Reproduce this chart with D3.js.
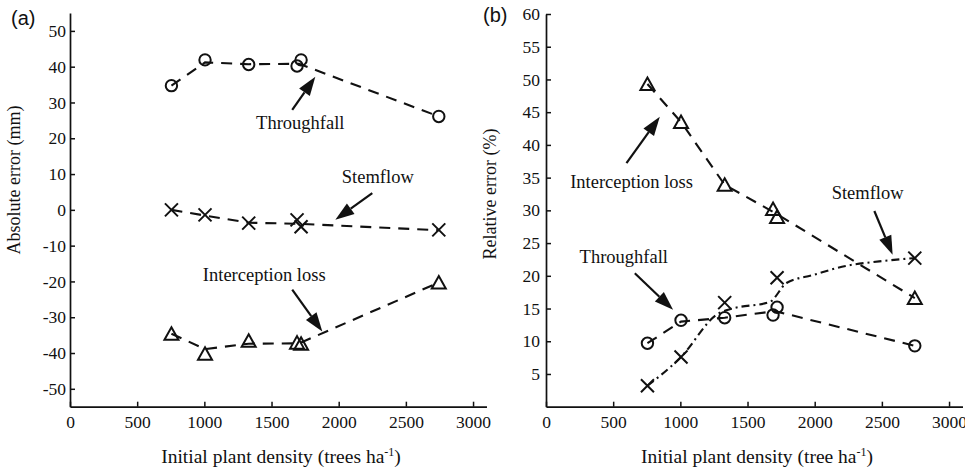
<!DOCTYPE html>
<html>
<head>
<meta charset="utf-8">
<script src="https://cdn.jsdelivr.net/npm/d3@7"></script>
<style>
  body { margin: 0; background: #fff; }
  text { font-family: "Liberation Serif", "Times New Roman", serif; fill: #111; }
  text.tag { font-family: "Liberation Sans", Arial, sans-serif; }
</style>
</head>
<body>
<svg width="965" height="472"></svg>
<script>
// plant densities (trees/ha)
var density = [755, 1005, 1330, 1690, 1720, 2745];

// (a) absolute error, mm
var throughAbs = [34.7, 41.9, 40.6, 40.2, 41.9, 26.1];
var stemAbs = [0, -1.4, -3.7, -2.8, -4.7, -5.6];
var interAbs = [-34.6, -40.2, -36.6, -37.1, -37.4, -20.3];

// (b) relative error, %
var throughRel = [9.7, 13.2, 13.6, 14.0, 15.2, 9.3];
var stemRel = [3.2, 7.6, 15.9, null, 19.7, 22.7];
var interRel = [49.3, 43.5, 33.9, 30.2, 29.0, 16.6];

// trend lines as drawn
var throughAbsLine = [[755, 34.7], [1005, 41.2], [1330, 40.7], [1705, 40.8], [2745, 26.1]];
var stemAbsLine = [[755, 0], [1005, -1.6], [1330, -3.6], [1705, -3.9], [2745, -5.7]];
var interAbsLine = [[755, -34.6], [1005, -38.9], [1330, -37.4], [1705, -37.3], [2745, -20.3]];
var throughRelLine = [[755, 9.7], [1005, 13.0], [1330, 13.6], [1705, 14.6], [2745, 9.3]];
var interRelLine = [[755, 49.3], [1005, 43.5], [1330, 33.9], [1705, 29.6], [2745, 16.6]];
var stemRelLine = [[755, 3.2], [1005, 7.6], [1280, 14.2], [1390, 15.0], [1665, 16.0], [1790, 18.9],
                   [1985, 20.1], [2230, 21.5], [2480, 22.2], [2745, 22.7]];

var xTicks = [0, 500, 1000, 1500, 2000, 2500, 3000];
var yTicksA = [-50, -40, -30, -20, -10, 0, 10, 20, 30, 40, 50];
var yTicksB = [5, 10, 15, 20, 25, 30, 35, 40, 45, 50, 55, 60];

// annotations: text spot and arrow, in data units
var notesA = [
  {label: "Throughfall", tx: 1714, ty: 22.5, from: [1654, 27.9], to: [1826, 37.2]},
  {label: "Stemflow", tx: 2291, ty: 7.6, from: [2250, 4.7], to: [1975, -2.8]},
  {label: "Interception loss", tx: 1446, ty: -20.0, from: [1654, -22.3], to: [1878, -34.0]}
];
var notesB = [
  {label: "Interception loss", tx: 637, ty: 33.4, from: [599, 37.2], to: [847, 44.3]},
  {label: "Stemflow", tx: 2394, ty: 31.8, from: [2444, 29.9], to: [2580, 23.2]},
  {label: "Throughfall", tx: 579, ty: 21.9, from: [661, 20.4], to: [946, 14.8]}
];

var svg = d3.select("svg");

function panel(opt) {
  var g = svg.append("g");
  var x = d3.scaleLinear().domain([0, 3100]).range([opt.left, opt.left + 3100 * 0.13435]);
  var y = d3.scaleLinear().domain(opt.ydom).range([406.7, opt.top]);

  g.append("g")
    .attr("transform", "translate(0,406.7)")
    .call(d3.axisBottom(x).tickValues(xTicks).tickSizeInner(-5).tickSizeOuter(0)
      .tickPadding(9).tickFormat(d => String(d)))
    .call(a => a.selectAll("text").attr("font-size", 17.5));

  g.append("g")
    .attr("transform", "translate(" + opt.left + ",0)")
    .call(d3.axisLeft(y).tickValues(opt.yticks).tickSizeInner(-5).tickSizeOuter(0)
      .tickPadding(opt.ypad).tickFormat(d => String(d)))
    .call(a => a.selectAll("text").attr("font-size", 17.5));

  g.selectAll(".domain").attr("stroke", "#111").attr("stroke-width", 1.7);
  g.selectAll(".tick line").attr("stroke", "#111").attr("stroke-width", 1.5);

  var line = d3.line().x(d => x(d[0])).y(d => y(d[1]));

  opt.lines.forEach(function(l) {
    g.append("path")
      .attr("d", line.curve(l.curve || d3.curveLinear)(l.pts))
      .attr("fill", "none")
      .attr("stroke", "#111")
      .attr("stroke-width", 2.1)
      .attr("stroke-dasharray", l.dash);
  });

  opt.series.forEach(function(s) {
    var pts = density.map((d, i) => [d, s.vals[i]]).filter(p => p[1] != null);
    var m = g.append("g").selectAll("path")
      .data(pts).enter().append("path")
      .attr("transform", p => "translate(" + x(p[0]) + "," + y(p[1]) + ")")
      .attr("fill", "none")
      .attr("stroke", "#111")
      .attr("stroke-width", 2);
    if (s.mark == "circle") m.attr("d", "M5.7,0A5.7,5.7 0 1,1 -5.7,0A5.7,5.7 0 1,1 5.7,0Z");
    if (s.mark == "tri") m.attr("d", "M0,-6.5L7,6L-7,6Z");
    if (s.mark == "cross") m.attr("d", "M-6.5,-6.5L6.5,6.5M-6.5,6.5L6.5,-6.5");
  });

  opt.notes.forEach(function(n) {
    g.append("text")
      .attr("x", x(n.tx)).attr("y", y(n.ty))
      .attr("text-anchor", "middle")
      .attr("font-size", 18.5)
      .text(n.label);
    var x1 = x(n.from[0]), y1 = y(n.from[1]), x2 = x(n.to[0]), y2 = y(n.to[1]);
    var ang = Math.atan2(y2 - y1, x2 - x1);
    var hl = 19, hw = 6.5;
    var bx = x2 - hl * Math.cos(ang), by = y2 - hl * Math.sin(ang);
    g.append("line")
      .attr("x1", x1).attr("y1", y1).attr("x2", bx).attr("y2", by)
      .attr("stroke", "#111").attr("stroke-width", 2.2);
    g.append("path")
      .attr("d", "M" + x2 + "," + y2 +
        "L" + (bx + hw * Math.sin(ang)) + "," + (by - hw * Math.cos(ang)) +
        "L" + (bx - hw * Math.sin(ang)) + "," + (by + hw * Math.cos(ang)) + "Z")
      .attr("fill", "#111");
  });

  var t = g.append("text")
    .attr("x", (opt.left + opt.left + 410) / 2 + 6).attr("y", 463)
    .attr("text-anchor", "middle")
    .attr("font-size", 19.5);
  t.append("tspan").text(opt.xtitle);
  t.append("tspan").attr("dy", -7).attr("font-size", 12).text("-1");
  t.append("tspan").attr("dy", 7).text(")");

  g.append("text")
    .attr("transform", "translate(" + opt.ylabx + "," + opt.ylaby + ") rotate(-90)")
    .attr("text-anchor", "middle")
    .attr("font-size", 18)
    .text(opt.ytitle);

  g.append("text")
    .attr("class", "tag")
    .attr("x", opt.tagx).attr("y", opt.tagy)
    .attr("font-size", 20)
    .text(opt.tag);
}

panel({
  left: 70, top: 13, ydom: [-55, 55], yticks: yTicksA, ypad: 4,
  lines: [
    {pts: throughAbsLine, dash: "11,8"},
    {pts: stemAbsLine, dash: "11,8"},
    {pts: interAbsLine, dash: "11,8"}
  ],
  series: [
    {vals: throughAbs, mark: "circle"},
    {vals: stemAbs, mark: "cross"},
    {vals: interAbs, mark: "tri"}
  ],
  notes: notesA,
  xtitle: "Initial plant density (trees ha",
  ytitle: "Absolute error (mm)", ylabx: 20, ylaby: 180,
  tag: "(a)", tagx: 11, tagy: 25
});

panel({
  left: 546, top: 14, ydom: [0, 60], yticks: yTicksB, ypad: 6,
  lines: [
    {pts: throughRelLine, dash: "11,8"},
    {pts: interRelLine, dash: "11,8"},
    {pts: stemRelLine, dash: "8,4,2,4", curve: d3.curveMonotoneX}
  ],
  series: [
    {vals: throughRel, mark: "circle"},
    {vals: stemRel, mark: "cross"},
    {vals: interRel, mark: "tri"}
  ],
  notes: notesB,
  xtitle: "Initial plant density (tree ha",
  ytitle: "Relative error (%)", ylabx: 496, ylaby: 194,
  tag: "(b)", tagx: 483, tagy: 22
});
</script>
</body>
</html>
